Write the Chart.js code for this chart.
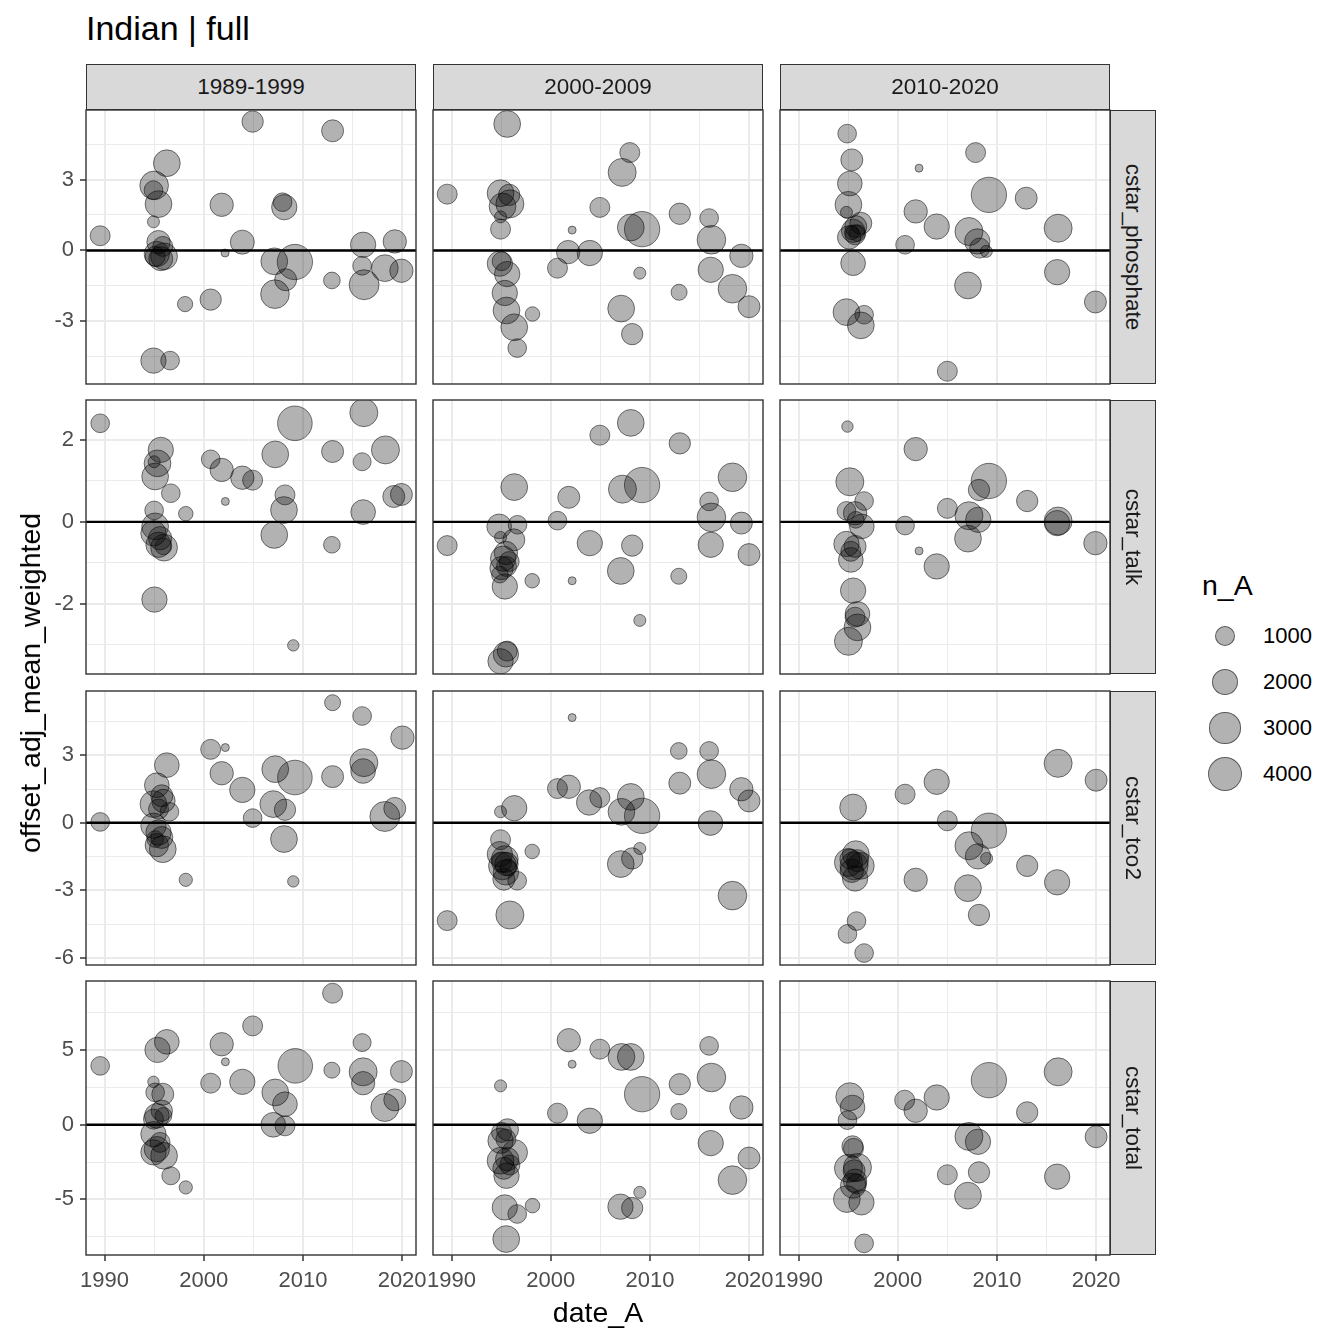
<!DOCTYPE html>
<html>
<head>
<meta charset="utf-8">
<script src="https://cdn.jsdelivr.net/npm/chart.js@4.4.1/dist/chart.umd.min.js"></script>
<style>
  body { margin: 0; background: #fff; width: 1344px; height: 1344px; position: relative; overflow: hidden;
         font-family: "Liberation Sans", Arial, sans-serif; }
  .box { position: absolute; }
  .strip { position: absolute; background: #d9d9d9; border: 1.3px solid #333; box-sizing: border-box;
           display: flex; align-items: center; justify-content: center; font-size: 22.5px; color: #1a1a1a; }
  .strip span { white-space: nowrap; }
  .strip.right span { transform: rotate(90deg); }
  .txt { position: absolute; white-space: nowrap; color: #000; }
  .key { position: absolute; border-radius: 50%; background: rgba(0,0,0,0.3); border: 1px solid rgba(0,0,0,0.5); box-sizing: border-box; }
</style>
</head>
<body>
<script>
// data: [date_A (decimal year), offset_adj_mean_weighted, n_A]
const decades   = ['1989-1999', '2000-2009', '2010-2020'];
const variables = ['cstar_phosphate', 'cstar_talk', 'cstar_tco2', 'cstar_total'];

const phosphate_1989 = [
  [1989.56,0.62,865],[2004.93,5.45,1050],[2012.99,5.06,1150],[1996.28,3.69,2000],[1995.00,2.75,2400],
  [1994.93,2.55,700],[1995.44,1.96,2000],[1994.93,1.21,130],[2001.81,1.93,1370],[2007.95,2.04,700],
  [2008.12,1.83,1720],[2003.89,0.35,1480],[2002.15,-0.11,5],[1995.44,0.35,1370],[1995.87,0.17,865],
  [1995.27,-0.15,1720],[1995.67,-0.35,1480],[1996.00,-0.25,2000],[1995.10,-0.25,865],[2007.11,-0.46,2000],
  [2009.19,-0.49,4100],[2008.26,-1.24,1150],[2007.18,-1.85,2400],[2012.92,-1.27,480],[2016.07,0.24,1720],
  [2019.26,0.38,1370],[2015.97,-0.65,700],[2016.17,-1.45,2700],[2018.26,-0.75,2000],[2019.93,-0.86,1370],
  [2000.70,-2.08,1050],[1998.12,-2.27,350],[1994.93,-4.66,1720],[1996.61,-4.66,700]
];
const phosphate_2000 = [
  [1995.61,5.35,2000],[1989.56,2.38,865],[2007.97,4.14,865],[2007.20,3.30,2260],[1994.94,2.42,2000],
  [1995.81,2.35,1050],[1995.88,1.97,2260],[1995.14,1.86,2000],[1994.94,1.42,130],[1994.94,0.90,865],
  [2004.95,1.82,865],[2002.16,0.86,5],[2008.07,0.97,2000],[2009.21,0.90,4100],[2013.01,1.55,1050],
  [2015.97,1.37,700],[2016.20,0.45,2400],[2019.22,-0.23,1370],[2001.76,-0.07,1370],[2003.94,-0.11,1720],
  [2000.68,-0.75,865],[2008.98,-0.96,130],[1994.87,-0.56,1720],[1995.04,-0.46,700],[1995.61,-1.00,1720],
  [1995.37,-1.80,1720],[1995.54,-2.54,2000],[1998.16,-2.69,290],[1996.32,-3.25,2000],[1996.62,-4.13,700],
  [2016.13,-0.82,1720],[2012.94,-1.77,415],[2018.32,-1.62,2400],[2019.99,-2.38,1150],[2007.10,-2.46,2000],
  [2008.21,-3.54,1050]
];
const phosphate_2010 = [
  [1994.90,4.94,700],[1995.37,3.83,1150],[1995.17,2.83,1600],[1995.03,1.93,2000],[1994.83,1.61,130],
  [1996.28,1.15,1150],[1995.77,1.01,1150],[1995.50,0.83,1370],[1995.70,0.66,865],[1995.10,0.55,1370],
  [1995.94,0.73,480],[1995.37,0.76,290],[1995.50,-0.54,1600],[2002.15,3.48,5],[2001.81,1.65,1370],
  [2003.93,1.01,1720],[2000.74,0.24,700],[2007.85,4.14,865],[2009.19,2.35,4100],[2012.95,2.21,1150],
  [2007.18,0.80,2260],[2008.02,0.38,1720],[2008.26,0.10,865],[2008.93,-0.04,130],[2016.17,0.94,2260],
  [2016.07,-0.92,1720],[2007.08,-1.48,2000],[2019.93,-2.18,1150],[1994.83,-2.61,2000],[1996.61,-2.72,700],
  [1996.28,-3.17,2000],[2005.00,-5.11,865]
];
const talk_1989 = [
  [1989.56,2.41,700],[1995.67,1.76,1720],[1995.34,1.43,2000],[1995.00,1.47,130],[1995.10,1.11,2000],
  [1996.68,0.70,700],[1995.00,0.28,700],[1998.19,0.20,290],[1995.10,-0.11,2000],[1994.93,-0.28,1720],
  [1995.60,-0.40,1370],[1996.00,-0.63,2000],[1995.44,-0.56,1720],[1995.94,-0.60,480],[1995.03,-1.90,1720],
  [2000.70,1.53,700],[2001.81,1.27,1370],[2003.89,1.08,1370],[2004.93,1.02,865],[2002.18,0.50,5],
  [2007.21,1.65,2000],[2009.19,2.41,3900],[2008.19,0.66,865],[2008.09,0.29,2000],[2007.11,-0.32,2000],
  [2012.92,-0.56,480],[2012.99,1.72,1150],[2009.03,-3.02,100],[2016.14,2.67,2260],[2015.97,1.47,620],
  [2018.32,1.76,2260],[2016.07,0.24,1600],[2019.16,0.62,1150],[2019.93,0.67,1150]
];
const talk_2000 = [
  [1989.56,-0.58,865],[1996.32,0.85,2000],[1994.80,-0.11,1600],[1996.65,-0.07,700],[1996.28,-0.44,1150],
  [1994.94,-0.38,130],[1995.48,-0.76,1370],[1995.20,-0.90,1720],[1995.04,-1.13,1370],[1995.54,-1.09,865],
  [1994.87,-1.29,480],[1995.37,-1.58,1720],[1995.81,-0.97,865],[1995.48,-3.24,1720],[1994.94,-3.41,1720],
  [1995.61,-3.16,865],[1998.13,-1.44,290],[2002.16,-1.44,5],[2000.68,0.03,700],[2001.82,0.60,1150],
  [2003.94,-0.52,1720],[2004.95,2.12,865],[2008.07,2.42,2000],[2007.23,0.80,2260],[2009.21,0.90,4100],
  [2008.21,-0.58,1050],[2007.06,-1.20,2000],[2008.98,-2.41,130],[2013.01,1.92,1050],[2012.91,-1.33,415],
  [2018.32,1.09,2400],[2015.97,0.50,700],[2016.20,0.11,2400],[2016.13,-0.56,1720],[2019.22,-0.03,1150],
  [2019.99,-0.80,1150]
];
const talk_2010 = [
  [1994.93,2.33,100],[2001.81,1.78,1370],[1995.17,0.98,2260],[1996.61,0.51,700],[1994.83,0.27,700],
  [1995.70,0.21,1370],[1996.38,-0.11,1600],[1995.77,0.05,480],[1994.83,-0.54,1720],[1995.70,-0.60,1150],
  [1995.27,-0.72,865],[1995.27,-0.93,1600],[1995.50,-1.68,1720],[1995.94,-2.25,1600],[1995.70,-2.33,865],
  [1995.94,-2.58,2000],[1995.03,-2.92,2260],[2000.74,-0.09,700],[2002.15,-0.71,5],[2003.93,-1.09,1720],
  [2005.00,0.33,865],[2009.19,1.00,4100],[2008.19,0.78,1050],[2007.18,0.15,2260],[2008.12,0.05,1720],
  [2007.08,-0.41,2000],[2013.05,0.51,1050],[2016.17,0.02,2260],[2016.07,-0.03,1720],[2019.93,-0.52,1370]
];
const tco2_1989 = [
  [1989.56,0.04,700],[2000.70,3.26,865],[2002.18,3.34,5],[2001.81,2.20,1370],[2003.89,1.46,1720],
  [2004.93,0.21,700],[1996.28,2.56,1600],[1995.27,1.67,1600],[1995.77,1.20,1150],[1994.93,0.83,2000],
  [1995.94,0.97,1370],[1996.54,0.49,700],[1995.44,0.61,865],[1994.93,-0.13,1720],[1995.44,-0.43,1720],
  [1995.77,-0.65,1150],[1995.10,-0.72,480],[1995.87,-1.17,2000],[1995.27,-0.99,1370],[1998.19,-2.53,200],
  [2007.21,2.38,2000],[2009.19,2.01,3900],[2007.01,0.83,2000],[2008.19,0.58,1050],[2008.09,-0.72,2000],
  [2009.03,-2.60,100],[2012.99,5.33,415],[2012.99,2.05,1150],[2015.97,4.74,700],[2016.14,2.67,2260],
  [2016.07,2.30,1600],[2020.03,3.78,1370],[2018.26,0.28,2700],[2019.26,0.64,1150]
];
const tco2_2000 = [
  [1989.56,-4.34,865],[2002.16,4.67,5],[2012.91,3.19,480],[2015.97,3.19,700],[2016.20,2.16,2400],
  [2013.01,1.76,1150],[2019.22,1.49,1370],[2019.99,0.97,1150],[2016.10,-0.01,1600],[2000.68,1.52,865],
  [2001.82,1.60,1370],[2003.87,0.90,1720],[2004.95,1.12,865],[2008.07,1.15,2000],[2007.13,0.49,2000],
  [2009.21,0.31,4100],[1996.32,0.65,1720],[1994.94,0.49,130],[1998.13,-1.27,290],[2008.98,-1.14,130],
  [2008.21,-1.58,1050],[2007.06,-1.83,2000],[2018.32,-3.23,2400],[1995.88,-4.09,2260],[1994.94,-0.75,865],
  [1994.87,-1.39,1720],[1995.37,-1.61,2000],[1995.14,-1.91,2260],[1995.54,-1.83,1370],[1995.48,-2.20,1720],
  [1995.27,-2.50,1150],[1996.62,-2.57,700],[1995.04,-1.76,865],[1995.71,-1.98,480]
];
const tco2_2010 = [
  [2016.17,2.64,2260],[2020.00,1.89,1150],[2003.93,1.82,1720],[2000.74,1.27,865],[1995.50,0.68,2000],
  [2005.00,0.09,865],[2009.19,-0.35,4100],[2007.18,-1.02,2260],[2008.09,-1.49,1720],[2008.96,-1.58,130],
  [2013.05,-1.91,1050],[2016.07,-2.64,1720],[2001.81,-2.53,1370],[2007.08,-2.90,2000],[2008.19,-4.09,1050],
  [1995.84,-4.36,700],[1994.93,-4.93,700],[1996.61,-5.78,700],[1995.77,-1.39,2000],[1995.03,-1.76,2260],
  [1995.60,-1.91,2260],[1996.28,-1.91,2000],[1995.37,-2.13,1370],[1995.70,-2.47,1720],[1995.94,-1.68,1150],
  [1995.17,-1.61,865]
];
const total_1989 = [
  [1989.56,3.95,700],[2001.81,5.40,1370],[2002.18,4.22,5],[2000.70,2.79,865],[2003.89,2.88,1720],
  [2004.93,6.63,865],[1996.28,5.56,1600],[1995.34,5.02,1720],[1994.93,2.88,100],[1995.87,2.05,1150],
  [1995.10,2.17,700],[1995.77,0.94,1050],[1995.27,0.60,1600],[1995.94,0.60,480],[1994.93,0.38,865],
  [1994.93,-0.63,1720],[1995.27,-1.63,1720],[1994.93,-1.85,1720],[1996.00,-2.08,2000],[1995.60,-1.18,865],
  [1996.68,-3.42,620],[1998.19,-4.20,200],[2009.23,3.95,3900],[2007.21,2.17,2000],[2008.19,1.38,1600],
  [2007.01,0.00,1600],[2008.19,-0.07,865],[2012.92,3.66,415],[2012.99,8.82,865],[2015.97,5.51,620],
  [2016.07,3.55,2260],[2016.07,2.79,1370],[2019.93,3.57,1150],[2019.26,1.67,1150],[2018.26,1.16,2260]
];
const total_2000 = [
  [2001.82,5.67,1370],[2002.16,4.06,5],[2004.95,5.07,865],[2007.13,4.55,2000],[2008.07,4.55,2000],
  [2009.21,2.05,4100],[2013.01,2.72,1050],[2012.91,0.89,415],[2015.97,5.29,700],[2016.20,3.17,2400],
  [2019.22,1.16,1370],[2000.68,0.78,865],[2003.94,0.27,1720],[1994.94,2.61,130],[1995.64,-0.33,1150],
  [1995.04,-0.51,865],[1994.94,-1.07,1720],[1995.48,-0.96,865],[1996.38,-1.85,1720],[1994.94,-2.41,2000],
  [1995.61,-2.30,1370],[1995.27,-2.92,1150],[1995.54,-3.42,1720],[1995.88,-2.70,865],[1995.37,-5.54,1720],
  [1996.62,-5.98,700],[1998.16,-5.42,290],[1995.51,-7.66,2000],[2016.13,-1.23,1720],[2019.99,-2.23,1150],
  [2018.32,-3.71,2400],[2008.98,-4.53,130],[2007.03,-5.49,1720],[2008.21,-5.58,1050]
];
const total_2010 = [
  [1995.17,1.88,2260],[1995.44,1.16,1600],[1994.93,0.31,700],[2000.70,1.65,865],[2001.81,0.94,1370],
  [2003.93,1.83,1720],[2009.19,2.99,4100],[2016.17,3.55,2260],[2013.05,0.83,1050],[2020.00,-0.80,1150],
  [2007.18,-0.78,2260],[2008.09,-1.14,1720],[2005.00,-3.35,865],[2008.19,-3.19,1050],[2007.08,-4.75,2000],
  [2016.07,-3.48,1720],[1996.61,-7.95,700],[1994.87,-4.98,2000],[1996.34,-5.20,1720],[1995.44,-1.45,1050],
  [1995.54,-1.58,865],[1995.03,-2.92,2260],[1995.94,-2.86,2260],[1995.60,-3.08,1150],[1995.70,-3.75,1370],
  [1995.50,-4.08,1720],[1995.84,-3.97,865]
];

// axes
const xMajor = [1990, 2000, 2010, 2020];
const xMinor = [1995, 2005, 2015];
const xLim   = [1988.13, 2021.4];
const yMajor = [[-3, 0, 3], [-2, 0, 2], [-6, -3, 0, 3], [-5, 0, 5]];
const yMinor = [[-4.5, -1.5, 1.5, 4.5], [-3, -1, 1], [-4.5, -1.5, 1.5, 4.5], [-7.5, -2.5, 2.5, 7.5]];
const yLim   = [[-5.65, 5.94], [-3.72, 2.98], [-6.31, 5.85], [-8.73, 9.64]];
const legendSizes = [1000, 2000, 3000, 4000];

const grid = [
  [phosphate_1989, phosphate_2000, phosphate_2010],
  [talk_1989, talk_2000, talk_2010],
  [tco2_1989, tco2_2000, tco2_2010],
  [total_1989, total_2000, total_2010]
];

// layout
const colLeft = [86, 433, 780];
const rowTop  = [110, 400, 691, 981];
const PW = 330, PH = 274;
const AXW = 50, AXH = 45, PADR = 35, PADT = 5;
const FONT = "'Liberation Sans', Arial, sans-serif";

Chart.defaults.font.family = FONT;

function radius(n) { return 3.5 + 0.221 * Math.sqrt(n); }

const panelDeco = {
  id: 'panelDeco',
  beforeDatasetsDraw(chart) {
    const { ctx, chartArea: a } = chart;
    const y0 = chart.scales.y.getPixelForValue(0);
    ctx.save();
    ctx.strokeStyle = '#000';
    ctx.lineWidth = 2.4;
    ctx.beginPath();
    ctx.moveTo(a.left, y0);
    ctx.lineTo(a.right, y0);
    ctx.stroke();
    ctx.restore();
  },
  afterDraw(chart) {
    const { ctx, chartArea: a } = chart;
    ctx.save();
    ctx.strokeStyle = '#333333';
    ctx.lineWidth = 1.4;
    ctx.strokeRect(a.left, a.top, a.right - a.left, a.bottom - a.top);
    ctx.restore();
  }
};

function axisOpts(major, minor, lim, show, isX) {
  const all = major.concat(minor).sort((a, b) => a - b);
  const isMajor = c => c.tick && major.includes(c.tick.value);
  return {
    type: 'linear',
    min: lim[0],
    max: lim[1],
    afterBuildTicks: s => { s.ticks = all.map(v => ({ value: v })); },
    afterFit: s => {
      if (isX) s.height = AXH; else s.width = AXW;
      s.paddingLeft = s.paddingRight = s.paddingTop = s.paddingBottom = 0;
    },
    border: { display: false },
    grid: {
      color: '#ebebeb',
      lineWidth: c => isMajor(c) ? 2 : 1,
      drawTicks: show,
      tickLength: 6,
      tickWidth: 1.5,
      tickColor: c => isMajor(c) ? '#333333' : 'rgba(0,0,0,0)'
    },
    ticks: {
      display: show,
      autoSkip: false,
      maxRotation: 0,
      padding: isX ? 7 : 6,
      color: '#4d4d4d',
      font: { size: 22 },
      callback: v => major.includes(v) ? String(v) : ''
    }
  };
}

grid.forEach((row, r) => {
  row.forEach((pts, c) => {
    const box = document.createElement('div');
    box.className = 'box';
    box.style.left = (colLeft[c] - AXW) + 'px';
    box.style.top = (rowTop[r] - PADT) + 'px';
    box.style.width = (AXW + PW + PADR) + 'px';
    box.style.height = (PADT + PH + AXH) + 'px';
    const cv = document.createElement('canvas');
    box.appendChild(cv);
    document.body.appendChild(box);

    new Chart(cv, {
      type: 'scatter',
      data: {
        datasets: [{
          data: pts.map(p => ({ x: p[0], y: p[1], n: p[2] })),
          backgroundColor: 'rgba(0,0,0,0.3)',
          borderColor: 'rgba(0,0,0,0.5)',
          borderWidth: 1,
          pointRadius: ctx => radius(ctx.raw.n),
          pointHoverRadius: ctx => radius(ctx.raw.n),
          clip: 0
        }]
      },
      options: {
        animation: false,
        responsive: true,
        maintainAspectRatio: false,
        events: [],
        layout: { autoPadding: false, padding: { top: PADT, right: PADR, left: 0, bottom: 0 } },
        plugins: { legend: { display: false }, tooltip: { enabled: false } },
        scales: {
          x: axisOpts(xMajor, xMinor, xLim, r === grid.length - 1, true),
          y: axisOpts(yMajor[r], yMinor[r], yLim[r], c === 0, false)
        }
      },
      plugins: [panelDeco]
    });
  });
});

function addText(txt, css) {
  const d = document.createElement('div');
  d.className = 'txt';
  d.textContent = txt;
  Object.assign(d.style, css);
  document.body.appendChild(d);
  return d;
}

// strips
decades.forEach((t, c) => {
  const s = document.createElement('div');
  s.className = 'strip';
  Object.assign(s.style, { left: colLeft[c] + 'px', top: '64px', width: PW + 'px', height: '46px' });
  s.innerHTML = '<span>' + t + '</span>';
  document.body.appendChild(s);
});
variables.forEach((t, r) => {
  const s = document.createElement('div');
  s.className = 'strip right';
  Object.assign(s.style, { left: (colLeft[2] + PW) + 'px', top: rowTop[r] + 'px', width: '46px', height: PH + 'px' });
  s.innerHTML = '<span>' + t + '</span>';
  document.body.appendChild(s);
});

// titles
addText('Indian | full', { left: '86px', top: '11px', fontSize: '34px', lineHeight: '34px' });
addText('date_A', { left: '598px', top: '1297px', fontSize: '28.5px', lineHeight: '30px', transform: 'translateX(-50%)' });
addText('offset_adj_mean_weighted', { left: '30px', top: '683px', fontSize: '28.5px', lineHeight: '30px',
  transform: 'translate(-50%,-50%) rotate(-90deg)' });

// size legend
addText('n_A', { left: '1202px', top: '570px', fontSize: '28.5px', lineHeight: '30px' });
legendSizes.forEach((v, i) => {
  const cy = 636 + i * 46;
  const rr = radius(v);
  const k = document.createElement('div');
  k.className = 'key';
  Object.assign(k.style, { left: (1225 - rr) + 'px', top: (cy - rr) + 'px', width: 2 * rr + 'px', height: 2 * rr + 'px' });
  document.body.appendChild(k);
  addText(String(v), { left: '1263px', top: (cy - 12) + 'px', fontSize: '22px', lineHeight: '24px', color: '#000' });
});
</script>
</body>
</html>
